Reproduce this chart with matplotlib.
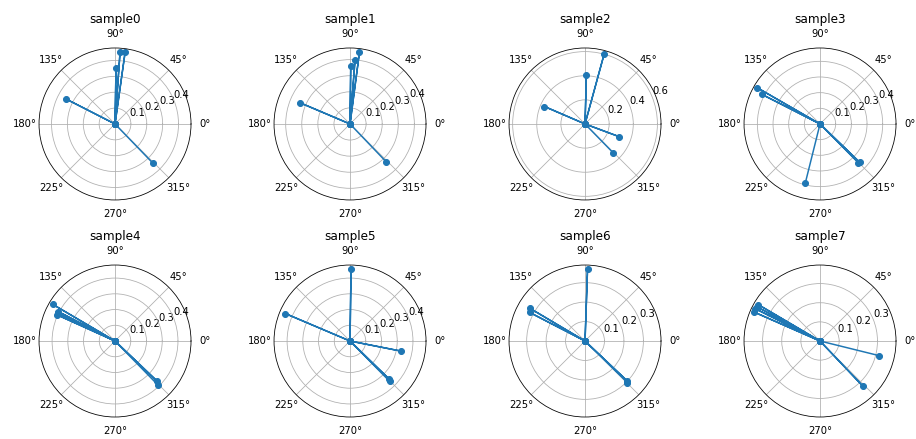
import numpy as np
import matplotlib
matplotlib.use("Agg")
import matplotlib.pyplot as plt
from matplotlib.ticker import MultipleLocator
from matplotlib.projections.polar import RadialLocator

titles = ["sample0", "sample1", "sample2", "sample3",
          "sample4", "sample5", "sample6", "sample7"]

# angles in degrees, radii
theta0 = [86, 82, 89, 153, 314]
r0 = [0.456, 0.455, 0.351, 0.350, 0.342]
theta1 = [82.5, 85.5, 89.3, 157, 313.7]
r1 = [0.450, 0.397, 0.358, 0.340, 0.323]
theta2 = [74.7, 88.4, 156.7, 339.6, 314.3]
r2 = [0.600, 0.408, 0.366, 0.302, 0.334]
theta3 = [150, 153, 314.7, 316, 256]
r3 = [0.462, 0.418, 0.347, 0.352, 0.390]
theta4 = [149.5, 152.6, 154.2, 155.7, 316.4, 314.3]
r4 = [0.460, 0.407, 0.405, 0.404, 0.367, 0.387]
theta5 = [89.2, 157, 348.8, 315.8, 314.5]
r5 = [0.460, 0.446, 0.330, 0.342, 0.358]
theta6 = [88, 149.3, 152.7, 316.6, 315.5]
r6 = [0.372, 0.331, 0.320, 0.300, 0.305]
theta7 = [149.5, 151.5, 153.5, 156.3, 313.5, 346.1]
r7 = [0.374, 0.376, 0.378, 0.377, 0.326, 0.316]

thetas = [theta0, theta1, theta2, theta3, theta4, theta5, theta6, theta7]
radii = [r0, r1, r2, r3, r4, r5, r6, r7]

fig, axes = plt.subplots(2, 4, figsize=(916 / 72, 439 / 72), dpi=72,
                         subplot_kw={"projection": "polar"})
for ax, title, th, rr in zip(axes.flat, titles, thetas, radii):
    t_all = []
    r_all = []
    for t, r in zip(th, rr):
        t_all += [0.0, np.deg2rad(t)]
        r_all += [0.0, r]
    ax.plot(t_all, r_all, marker="o", color="C0")
    ax.set_title(title)
    step = 0.2 if max(rr) > 0.5 else 0.1
    ax.yaxis.set_major_locator(RadialLocator(MultipleLocator(step), ax))
fig.subplots_adjust(left=0.0426, right=0.9782, bottom=0.0501, top=0.8907,
                    wspace=0.546, hspace=0.428)
fig.savefig("out.png", dpi=72)
